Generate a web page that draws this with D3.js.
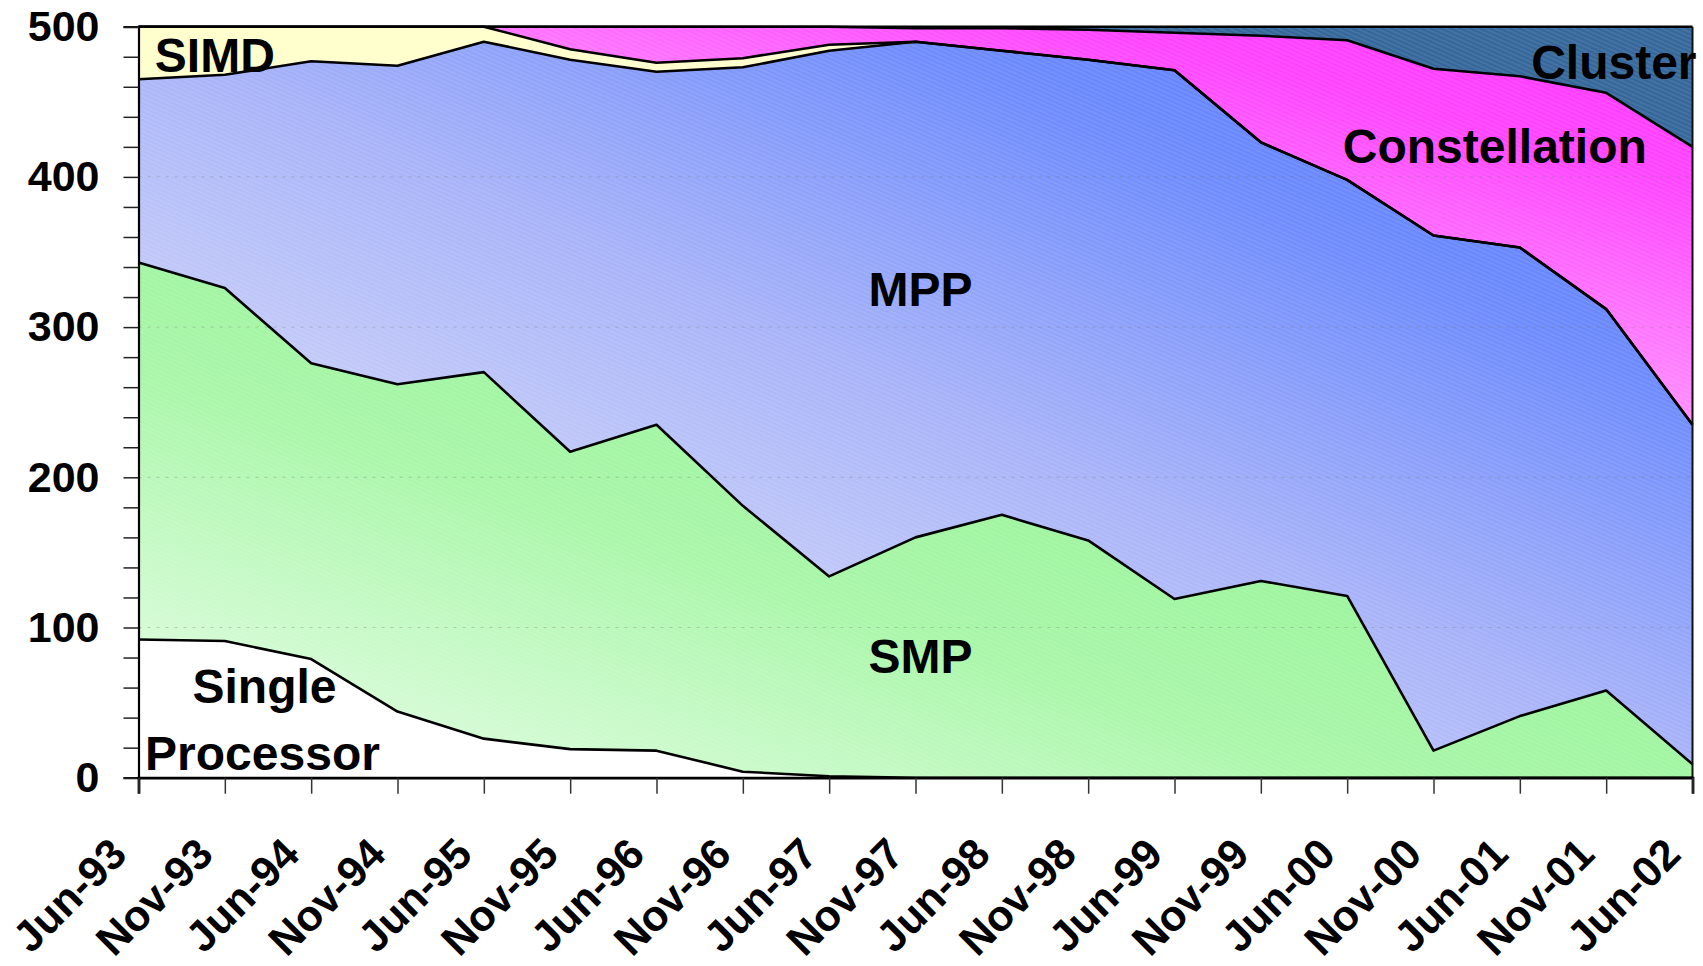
<!DOCTYPE html>
<html>
<head>
<meta charset="utf-8">
<script src="https://cdn.jsdelivr.net/npm/d3@7"></script>
<style>
  body { margin: 0; background: #fff; }
  svg { display: block; }
  text { font-family: "Liberation Sans", Arial, sans-serif; font-weight: bold; fill: #000; }
</style>
</head>
<body>
<script>
const dates = ['Jun-93', 'Nov-93', 'Jun-94', 'Nov-94', 'Jun-95', 'Nov-95', 'Jun-96', 'Nov-96', 'Jun-97', 'Nov-97',
  'Jun-98', 'Nov-98', 'Jun-99', 'Nov-99', 'Jun-00', 'Nov-00', 'Jun-01', 'Nov-01', 'Jun-02']

const single = [92, 91, 79, 44, 26, 19, 18, 4, 1, 0, 0, 0, 0, 0, 0, 0, 0, 0, 0]
const smp = [251, 235, 197, 218, 244, 198, 217, 177, 133, 160, 175, 158, 119, 131, 121, 18, 41, 58, 9]
const mpp = [122, 142, 201, 212, 220, 261, 235, 292, 350, 330, 309, 320, 352, 292, 277, 343, 312, 254, 226]
const simd = [35, 32, 23, 26, 10, 7, 6, 6, 4, 0, 0, 0, 0, 0, 0, 0, 0, 0, 0]
const constellation = [0, 0, 0, 0, 0, 15, 24, 21, 12, 9, 15, 20, 25, 71, 93, 111, 114, 144, 185]
const cluster = [0, 0, 0, 0, 0, 0, 0, 0, 0, 1, 1, 2, 4, 6, 9, 28, 33, 44, 80]

const yTicks = [0, 100, 200, 300, 400, 500]
const keys = ['single', 'smp', 'mpp', 'simd', 'constellation', 'cluster']

const width = 1703
const height = 966
const margin = { top: 26.7, bottom: 188.3, left: 138.5, right: 10.5 }
const innerWidth = width - margin.left - margin.right
const innerHeight = height - margin.top - margin.bottom

const rows = dates.map((d, i) => ({
  date: d, single: single[i], smp: smp[i], mpp: mpp[i],
  simd: simd[i], constellation: constellation[i], cluster: cluster[i]
}))

const svg = d3.select('body').append('svg')
  .attr('width', width)
  .attr('height', height)

const defs = svg.append('defs')

// gradients (bottom-left -> top-right)
const grad = (id, stops) => {
  const g = defs.append('linearGradient')
    .attr('id', id)
    .attr('x1', 0).attr('y1', 1).attr('x2', 1).attr('y2', 0)
  stops.forEach(s => g.append('stop').attr('offset', s[0]).attr('stop-color', s[1]))
}
grad('g-smp', [[0, '#edfeed'], [0.4, '#a8f6a8'], [1, '#84f084']])
grad('g-mpp', [[0, '#eceffd'], [0.25, '#cfd5f8'], [0.5, '#a9b4f8'], [0.75, '#6d8bfc'], [1, '#5275ff']])
grad('g-con', [[0, '#ffc4ff'], [0.5, '#ff90ff'], [0.8, '#ff44ff'], [1, '#ff33ff']])

// faint texture
const hatch = defs.append('pattern')
  .attr('id', 'hatch')
  .attr('patternUnits', 'userSpaceOnUse')
  .attr('width', 8).attr('height', 4)
  .attr('patternTransform', 'rotate(24)')
hatch.append('line')
  .attr('x1', 0).attr('y1', 2).attr('x2', 8).attr('y2', 2)
  .attr('stroke', '#fff').attr('stroke-opacity', 0.15).attr('stroke-width', 1)

const fills = {
  single: '#ffffff', smp: 'url(#g-smp)', mpp: 'url(#g-mpp)',
  simd: '#ffffcc', constellation: 'url(#g-con)', cluster: '#35679a'
}

const main = svg.append('g')
  .attr('transform', `translate(${margin.left}, ${margin.top})`)

const x = d3.scalePoint().domain(dates).range([0, innerWidth])
const y = d3.scaleLinear().domain([0, 500]).range([innerHeight, 0])

const series = d3.stack().keys(keys)(rows)

const area = d3.area()
  .x(d => x(d.data.date))
  .y0(d => y(d[0]))
  .y1(d => y(d[1]))

const topLine = d3.line()
  .x(d => x(d.data.date))
  .y(d => y(d[1]))

main.append('g')
  .selectAll('path')
  .data(series)
  .enter()
  .append('path')
  .attr('d', area)
  .attr('fill', d => fills[d.key])

main.append('g')
  .selectAll('path')
  .data(series.filter(s => s.key !== 'single'))
  .enter()
  .append('path')
  .attr('d', area)
  .attr('fill', 'url(#hatch)')

// gridlines
main.append('g')
  .selectAll('line')
  .data(yTicks.slice(1, -1))
  .enter()
  .append('line')
  .attr('x1', 0).attr('x2', innerWidth)
  .attr('y1', d => y(d)).attr('y2', d => y(d))
  .attr('stroke', '#777').attr('stroke-opacity', 0.35)
  .attr('stroke-dasharray', '3,6')

main.append('g')
  .selectAll('path')
  .data(series)
  .enter()
  .append('path')
  .attr('d', topLine)
  .attr('fill', 'none')
  .attr('stroke', '#000')
  .attr('stroke-width', 2.6)
  .attr('stroke-linejoin', 'round')

// right border
main.append('line')
  .attr('x1', innerWidth).attr('x2', innerWidth)
  .attr('y1', 0).attr('y2', innerHeight)
  .attr('stroke', '#111').attr('stroke-width', 2)

// axes
const yAxis = d3.axisLeft(y)
  .tickValues(d3.range(0, 501, 20))
  .tickSize(15)
  .tickPadding(24)
  .tickFormat(d => yTicks.includes(d) ? d : '')

const yg = main.append('g').call(yAxis)
yg.select('.domain').attr('stroke', '#000').attr('stroke-width', 2.2)
yg.selectAll('.tick line').attr('stroke', '#222').attr('stroke-width', 1.5)
yg.selectAll('.tick text').filter(d => !yTicks.includes(d)).remove()
yg.selectAll('.tick text').style('font-size', '43px')

const xAxis = d3.axisBottom(x).tickSize(16)

const xg = main.append('g')
  .attr('transform', `translate(0, ${innerHeight})`)
  .call(xAxis)
xg.select('.domain').attr('stroke', '#000').attr('stroke-width', 2.8)
xg.selectAll('.tick line').attr('stroke', '#333').attr('stroke-width', 1.5)
xg.selectAll('.tick text')
  .style('font-size', '43px')
  .attr('text-anchor', 'end')
  .attr('x', 0).attr('y', 0).attr('dy', 0)
  .attr('transform', 'translate(-10, 79) rotate(-45)')

// series labels
const labels = [
  { t: 'SIMD', x: 'Nov-93', v: 470, a: 'middle', dx: -10 },
  { t: 'MPP', x: 'Nov-97', v: 314, a: 'middle', dx: 5 },
  { t: 'SMP', x: 'Nov-97', v: 70, a: 'middle', dx: 5 },
  { t: 'Single', x: 'Nov-94', v: 50, a: 'middle', dx: -133 },
  { t: 'Processor', x: 'Nov-94', v: 5, a: 'middle', dx: -135 },
  { t: 'Constellation', x: 'Jun-01', v: 409, a: 'middle', dx: -25 },
  { t: 'Cluster', x: 'Nov-01', v: 465, a: 'start', dx: -75 }
]
main.append('g')
  .selectAll('text')
  .data(labels)
  .enter()
  .append('text')
  .attr('x', d => x(d.x) + d.dx)
  .attr('y', d => y(d.v))
  .attr('text-anchor', d => d.a)
  .style('font-size', '48px')
  .text(d => d.t)
</script>
</body>
</html>
